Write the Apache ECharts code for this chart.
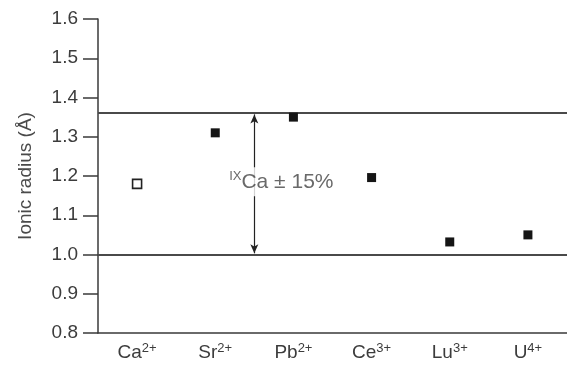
<!DOCTYPE html>
<html>
<head>
<meta charset="utf-8">
<script src="https://cdn.jsdelivr.net/npm/echarts@6/dist/echarts.min.js"></script>
<style>
  html, body { margin: 0; padding: 0; background: #fff; }
  #chart { width: 567px; height: 367px; }
</style>
</head>
<body>
<div id="chart"></div>
<script>
// Ions (element symbol + charge) and their ionic radii in Å
const ions = ['Ca', 'Sr', 'Pb', 'Ce', 'Lu', 'U'];
const charges = ['2+', '2+', '2+', '3+', '3+', '4+'];
const radii = [1.18, 1.31, 1.35, 1.196, 1.032, 1.05];
const hostIon = 'Ca';          // host site cation (open marker)
const tolerance = 0.15;        // ±15 % window around the host radius
const yTicks = [0.8, 0.9, 1.0, 1.1, 1.2, 1.3, 1.4, 1.5, 1.6];

const hostRadius = radii[ions.indexOf(hostIon)];
const upper = hostRadius * (1 + tolerance);
const lower = hostRadius * (1 - tolerance);

const categories = ions.map((s, i) => s + '|' + charges[i]);
const hostData = ions.map((s, i) => s === hostIon ? radii[i] : '-');
const guestData = ions.map((s, i) => s === hostIon ? '-' : radii[i]);

const FONT = '"Liberation Sans", Arial, Helvetica, sans-serif';
const TEXT = '#3c3c3c';
const LINE = '#3a3a3a';

const chart = echarts.init(document.getElementById('chart'), null, { renderer: 'canvas' });

chart.setOption({
  animation: false,
  backgroundColor: '#fff',
  grid: { left: 98, right: -9, top: 19, bottom: 34, containLabel: false },
  xAxis: [
    {
      type: 'category',
      data: categories,
      boundaryGap: true,
      axisLine: { onZero: false, lineStyle: { color: LINE, width: 1.5 } },
      axisTick: { show: false },
      axisLabel: {
        margin: 9,
        interval: 0,
        formatter: v => {
          const [sym, q] = v.split('|');
          return '{b|' + sym + '}{s|' + q + '}';
        },
        rich: {
          b: { fontFamily: FONT, fontSize: 19, color: TEXT },
          s: { fontFamily: FONT, fontSize: 13, color: TEXT, padding: [0, 0, 8, 0] }
        }
      },
      splitLine: { show: false }
    },
    {
      // continuous helper axis aligned with the category bands
      type: 'value',
      min: -0.5,
      max: 5.5,
      show: false
    }
  ],
  yAxis: {
    type: 'value',
    min: yTicks[0],
    max: yTicks[yTicks.length - 1],
    interval: 0.1,
    name: 'Ionic radius (Å)',
    nameLocation: 'middle',
    nameRotate: 90,
    nameGap: 63,
    nameTextStyle: { fontFamily: FONT, fontSize: 19, color: '#4a4a4a' },
    axisLine: { show: true, onZero: false, lineStyle: { color: LINE, width: 1.5 } },
    axisTick: { show: true, inside: false, length: 15, lineStyle: { color: LINE, width: 1.5 } },
    axisLabel: {
      margin: 20,
      fontFamily: FONT,
      fontSize: 19,
      color: TEXT,
      formatter: v => v.toFixed(1)
    },
    splitLine: { show: false }
  },
  series: [
    {
      name: 'host',
      type: 'scatter',
      xAxisIndex: 0,
      data: hostData,
      symbol: 'rect',
      symbolSize: 9,
      itemStyle: { color: '#fff', borderColor: '#222', borderWidth: 1.6, opacity: 1 },
      z: 5,
      markLine: {
        silent: true,
        symbol: 'none',
        label: { show: false },
        lineStyle: { color: '#4a4a4a', width: 2, type: 'solid' },
        data: [{ yAxis: upper }, { yAxis: lower }]
      }
    },
    {
      name: 'substituents',
      type: 'scatter',
      xAxisIndex: 0,
      data: guestData,
      symbol: 'rect',
      symbolSize: 9,
      itemStyle: { color: '#151515', opacity: 1 },
      z: 5
    },
    {
      // double-headed arrow spanning the tolerance window, with its label
      name: 'window',
      type: 'scatter',
      xAxisIndex: 1,
      data: [[1.5, hostRadius]],
      symbolSize: 0,
      z: 6,
      label: {
        show: true,
        position: 'inside',
        offset: [27, -2],
        formatter: '{s|IX}{b|Ca ± 15%}',
        backgroundColor: '#fff',
        padding: [3, 1, 3, 1],
        rich: {
          b: { fontFamily: FONT, fontSize: 21, color: '#444' },
          s: { fontFamily: FONT, fontSize: 13, color: '#444', padding: [0, 0, 10, 0] }
        }
      },
      markLine: {
        silent: true,
        symbol: ['arrow', 'arrow'],
        symbolSize: [6, 9],
        label: { show: false },
        lineStyle: { color: '#222', width: 1.2, type: 'solid' },
        z: 4,
        data: [[{ coord: [1.5, lower] }, { coord: [1.5, upper] }]]
      }
    }
  ]
});
</script>
</body>
</html>
